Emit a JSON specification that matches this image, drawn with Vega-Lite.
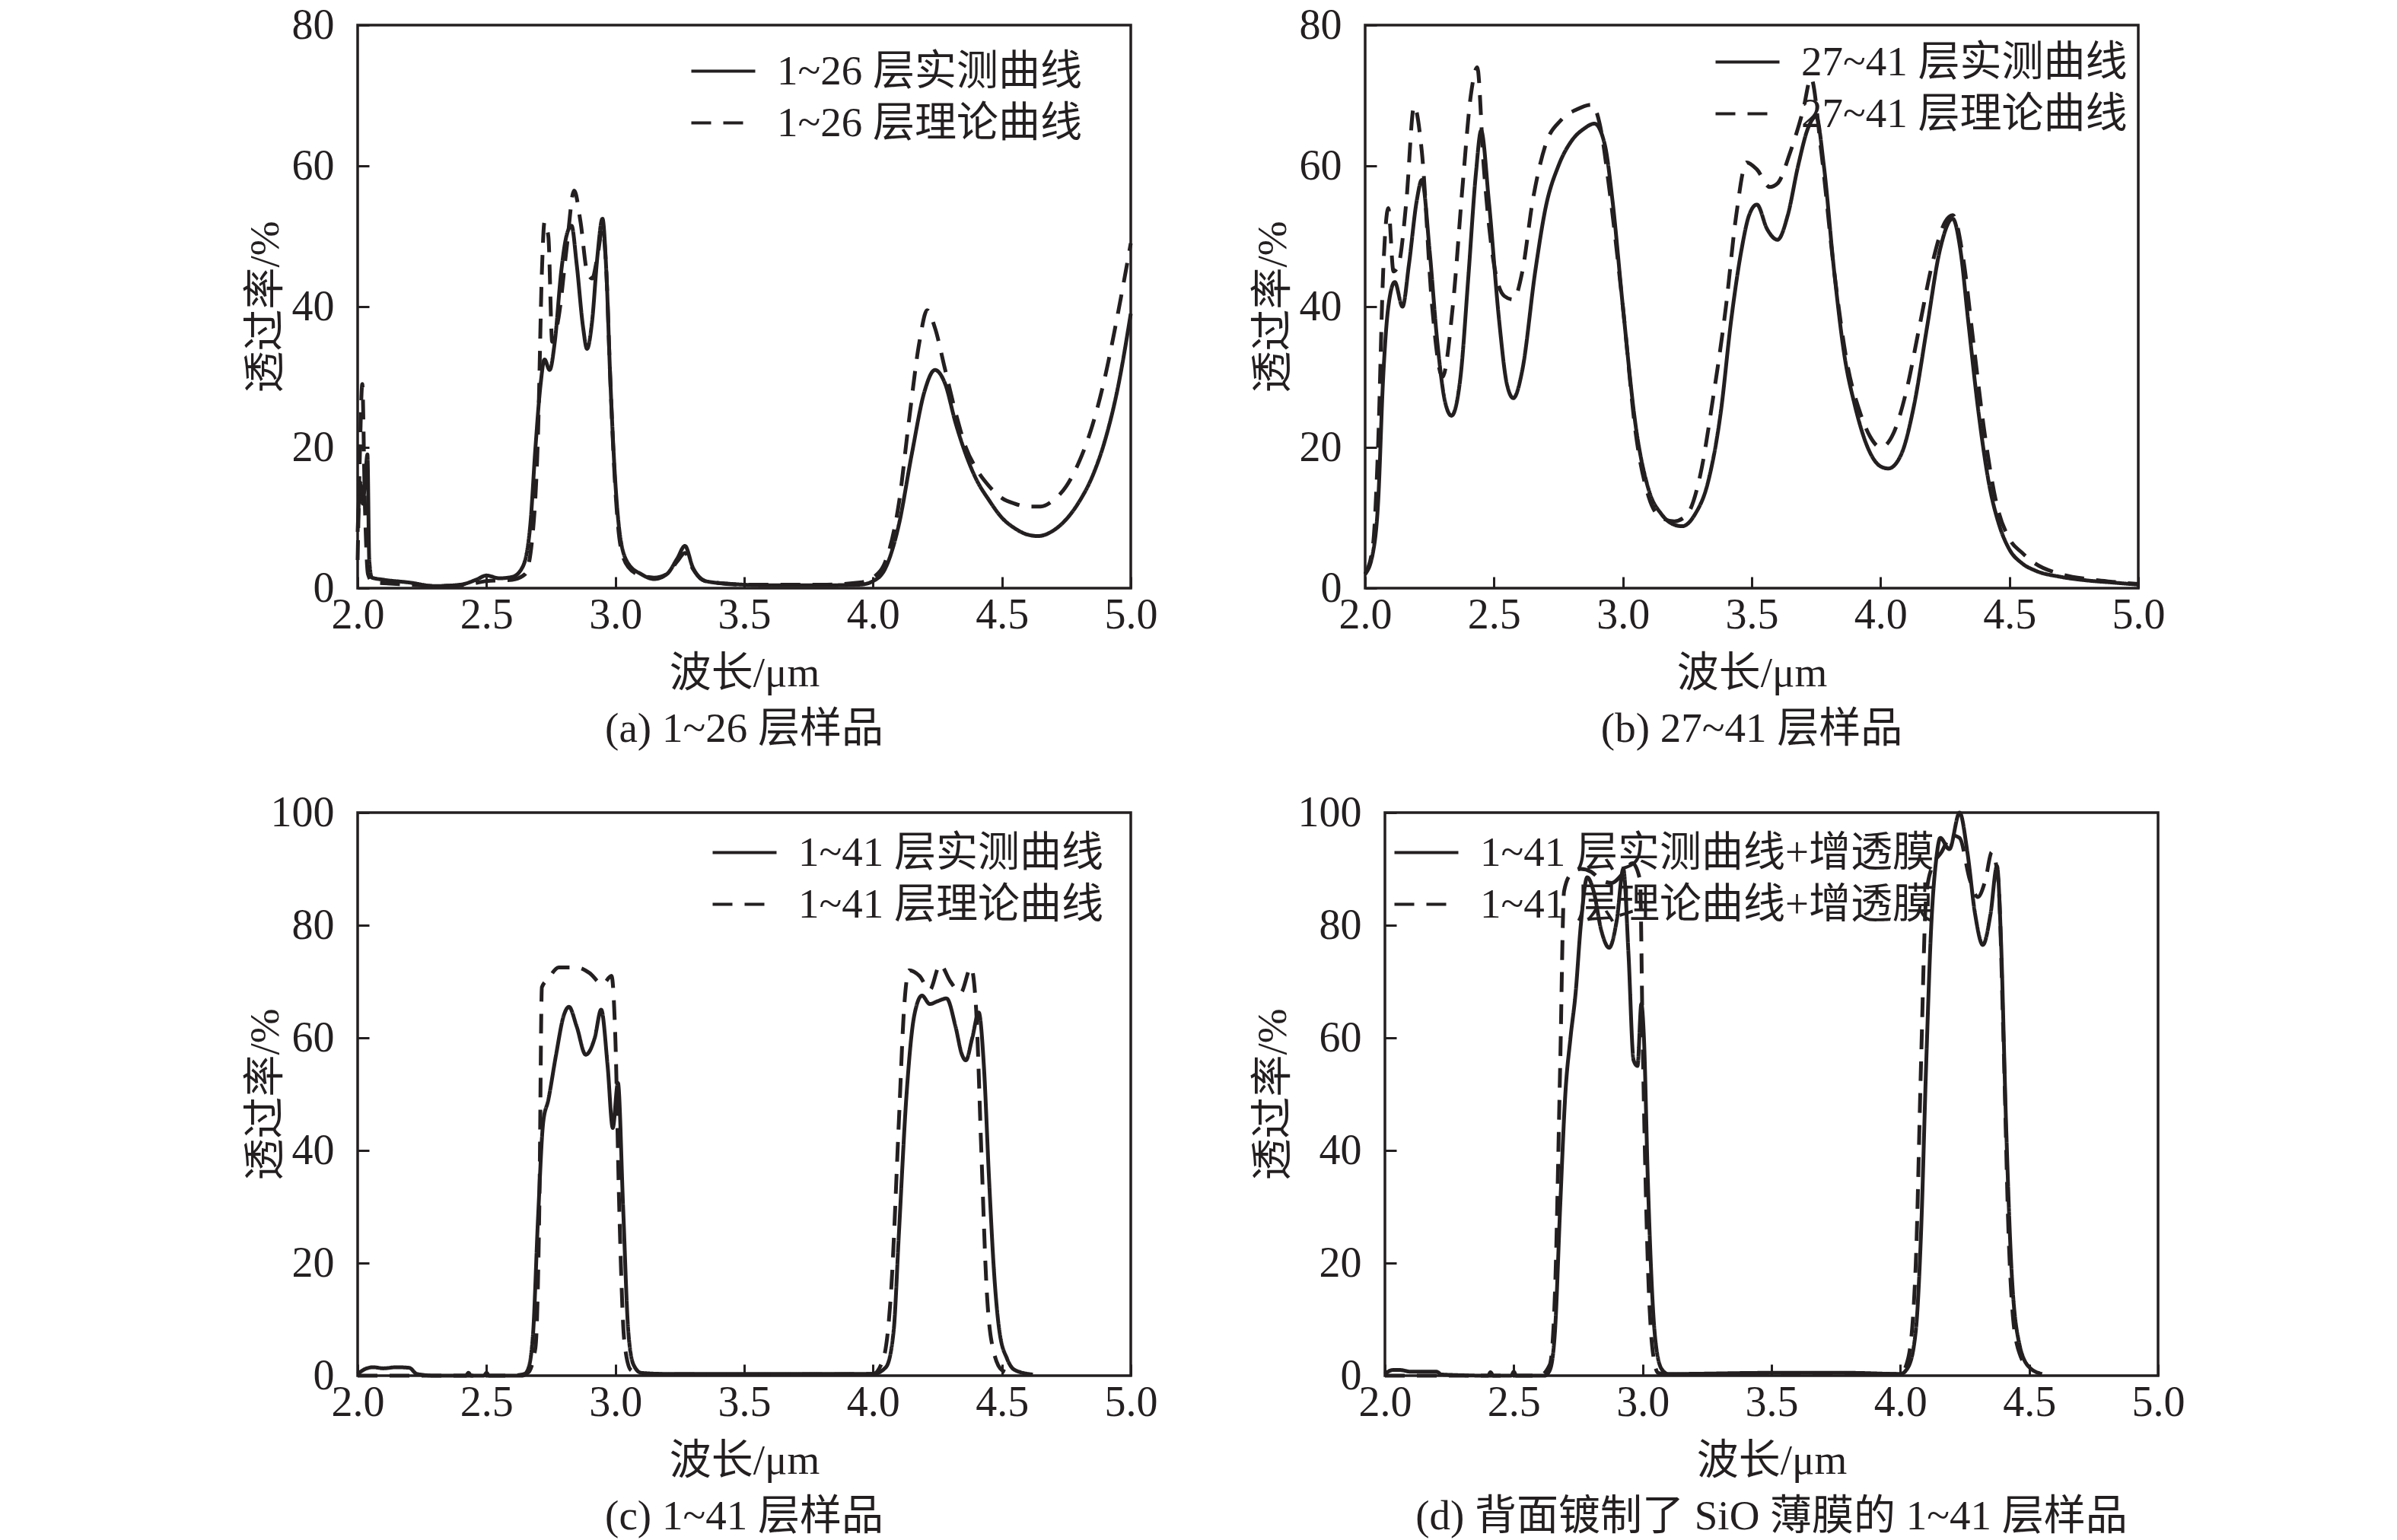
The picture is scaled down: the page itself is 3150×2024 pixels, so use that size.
{
  "$schema": "https://vega.github.io/schema/vega-lite/v6.json",
  "background": "white",
  "padding": {"left": 319, "top": 3, "right": 0, "bottom": 0},
  "datasets": {
    "a": [
      {"x":2.0,"y":8,"s":"m"},{"x":2.01,"y":15,"s":"m"},{"x":2.02,"y":12,"s":"m"},{"x":2.03,"y":16,"s":"m"},{"x":2.038,"y":19,"s":"m"},{"x":2.045,"y":4,"s":"m"},{"x":2.055,"y":1.5,"s":"m"},{"x":2.1,"y":1.2,"s":"m"},{"x":2.2,"y":0.8,"s":"m"},{"x":2.3,"y":0.3,"s":"m"},{"x":2.4,"y":0.5,"s":"m"},{"x":2.46,"y":1.2,"s":"m"},{"x":2.5,"y":1.8,"s":"m"},{"x":2.55,"y":1.4,"s":"m"},{"x":2.6,"y":1.6,"s":"m"},{"x":2.64,"y":3,"s":"m"},{"x":2.67,"y":9,"s":"m"},{"x":2.69,"y":20,"s":"m"},{"x":2.71,"y":29,"s":"m"},{"x":2.725,"y":32.5,"s":"m"},{"x":2.745,"y":31,"s":"m"},{"x":2.765,"y":35,"s":"m"},{"x":2.79,"y":45,"s":"m"},{"x":2.81,"y":50,"s":"m"},{"x":2.83,"y":51.5,"s":"m"},{"x":2.85,"y":46,"s":"m"},{"x":2.875,"y":37,"s":"m"},{"x":2.89,"y":34,"s":"m"},{"x":2.91,"y":38,"s":"m"},{"x":2.93,"y":47,"s":"m"},{"x":2.95,"y":52.5,"s":"m"},{"x":2.965,"y":45,"s":"m"},{"x":2.98,"y":30,"s":"m"},{"x":3.0,"y":15,"s":"m"},{"x":3.02,"y":7,"s":"m"},{"x":3.05,"y":3.5,"s":"m"},{"x":3.1,"y":2,"s":"m"},{"x":3.15,"y":1.3,"s":"m"},{"x":3.2,"y":2,"s":"m"},{"x":3.24,"y":4.2,"s":"m"},{"x":3.27,"y":6,"s":"m"},{"x":3.3,"y":3,"s":"m"},{"x":3.35,"y":1,"s":"m"},{"x":3.45,"y":0.6,"s":"m"},{"x":3.6,"y":0.4,"s":"m"},{"x":3.8,"y":0.4,"s":"m"},{"x":3.95,"y":0.5,"s":"m"},{"x":4.0,"y":1,"s":"m"},{"x":4.05,"y":3,"s":"m"},{"x":4.1,"y":9,"s":"m"},{"x":4.15,"y":19,"s":"m"},{"x":4.2,"y":28,"s":"m"},{"x":4.24,"y":31,"s":"m"},{"x":4.28,"y":29,"s":"m"},{"x":4.32,"y":23.5,"s":"m"},{"x":4.36,"y":19,"s":"m"},{"x":4.4,"y":15.5,"s":"m"},{"x":4.45,"y":12.5,"s":"m"},{"x":4.5,"y":10,"s":"m"},{"x":4.55,"y":8.5,"s":"m"},{"x":4.6,"y":7.6,"s":"m"},{"x":4.64,"y":7.4,"s":"m"},{"x":4.7,"y":8.2,"s":"m"},{"x":4.75,"y":9.8,"s":"m"},{"x":4.8,"y":12.3,"s":"m"},{"x":4.85,"y":15.8,"s":"m"},{"x":4.9,"y":21,"s":"m"},{"x":4.95,"y":28.5,"s":"m"},{"x":5.0,"y":39,"s":"m"},
      {"x":2.0,"y":4,"s":"t"},{"x":2.008,"y":18,"s":"t"},{"x":2.018,"y":29,"s":"t"},{"x":2.028,"y":12,"s":"t"},{"x":2.04,"y":2,"s":"t"},{"x":2.06,"y":0.8,"s":"t"},{"x":2.1,"y":0.7,"s":"t"},{"x":2.2,"y":0.5,"s":"t"},{"x":2.3,"y":0.3,"s":"t"},{"x":2.4,"y":0.4,"s":"t"},{"x":2.5,"y":1,"s":"t"},{"x":2.6,"y":1.2,"s":"t"},{"x":2.65,"y":2,"s":"t"},{"x":2.68,"y":8,"s":"t"},{"x":2.7,"y":22,"s":"t"},{"x":2.715,"y":45,"s":"t"},{"x":2.725,"y":52,"s":"t"},{"x":2.74,"y":50,"s":"t"},{"x":2.755,"y":35,"s":"t"},{"x":2.78,"y":38.5,"s":"t"},{"x":2.81,"y":48,"s":"t"},{"x":2.84,"y":56.5,"s":"t"},{"x":2.865,"y":52,"s":"t"},{"x":2.89,"y":45,"s":"t"},{"x":2.91,"y":44,"s":"t"},{"x":2.93,"y":47,"s":"t"},{"x":2.95,"y":51,"s":"t"},{"x":2.965,"y":45,"s":"t"},{"x":2.98,"y":30,"s":"t"},{"x":3.0,"y":14,"s":"t"},{"x":3.02,"y":6,"s":"t"},{"x":3.05,"y":3,"s":"t"},{"x":3.1,"y":1.8,"s":"t"},{"x":3.15,"y":1.5,"s":"t"},{"x":3.2,"y":2,"s":"t"},{"x":3.24,"y":3.8,"s":"t"},{"x":3.27,"y":5,"s":"t"},{"x":3.3,"y":2.8,"s":"t"},{"x":3.35,"y":1,"s":"t"},{"x":3.5,"y":0.5,"s":"t"},{"x":3.8,"y":0.5,"s":"t"},{"x":3.95,"y":0.8,"s":"t"},{"x":4.0,"y":1.5,"s":"t"},{"x":4.05,"y":4,"s":"t"},{"x":4.1,"y":12,"s":"t"},{"x":4.14,"y":24,"s":"t"},{"x":4.18,"y":35,"s":"t"},{"x":4.21,"y":39.5,"s":"t"},{"x":4.24,"y":37,"s":"t"},{"x":4.28,"y":31,"s":"t"},{"x":4.32,"y":25,"s":"t"},{"x":4.36,"y":20,"s":"t"},{"x":4.4,"y":17,"s":"t"},{"x":4.45,"y":14.5,"s":"t"},{"x":4.5,"y":12.8,"s":"t"},{"x":4.55,"y":12,"s":"t"},{"x":4.6,"y":11.6,"s":"t"},{"x":4.65,"y":11.6,"s":"t"},{"x":4.7,"y":12.5,"s":"t"},{"x":4.75,"y":14.5,"s":"t"},{"x":4.8,"y":18,"s":"t"},{"x":4.85,"y":23,"s":"t"},{"x":4.9,"y":30,"s":"t"},{"x":4.95,"y":39,"s":"t"},{"x":5.0,"y":49,"s":"t"}
    ],
    "b": [
      {"x":2.0,"y":2,"s":"m"},{"x":2.03,"y":5,"s":"m"},{"x":2.05,"y":12,"s":"m"},{"x":2.07,"y":30,"s":"m"},{"x":2.09,"y":40,"s":"m"},{"x":2.115,"y":43.5,"s":"m"},{"x":2.145,"y":40,"s":"m"},{"x":2.17,"y":46,"s":"m"},{"x":2.2,"y":55,"s":"m"},{"x":2.22,"y":58,"s":"m"},{"x":2.25,"y":48,"s":"m"},{"x":2.28,"y":35,"s":"m"},{"x":2.31,"y":26.5,"s":"m"},{"x":2.335,"y":24.5,"s":"m"},{"x":2.37,"y":30,"s":"m"},{"x":2.4,"y":44,"s":"m"},{"x":2.43,"y":59,"s":"m"},{"x":2.45,"y":65,"s":"m"},{"x":2.48,"y":55,"s":"m"},{"x":2.52,"y":38,"s":"m"},{"x":2.55,"y":29,"s":"m"},{"x":2.575,"y":27,"s":"m"},{"x":2.61,"y":31,"s":"m"},{"x":2.66,"y":45,"s":"m"},{"x":2.7,"y":54,"s":"m"},{"x":2.75,"y":60,"s":"m"},{"x":2.8,"y":63.5,"s":"m"},{"x":2.85,"y":65.3,"s":"m"},{"x":2.89,"y":66,"s":"m"},{"x":2.93,"y":63,"s":"m"},{"x":2.96,"y":55,"s":"m"},{"x":3.0,"y":40,"s":"m"},{"x":3.05,"y":23,"s":"m"},{"x":3.1,"y":14,"s":"m"},{"x":3.15,"y":10.5,"s":"m"},{"x":3.2,"y":9,"s":"m"},{"x":3.23,"y":8.8,"s":"m"},{"x":3.28,"y":10.5,"s":"m"},{"x":3.33,"y":15,"s":"m"},{"x":3.38,"y":25,"s":"m"},{"x":3.42,"y":38,"s":"m"},{"x":3.46,"y":48,"s":"m"},{"x":3.49,"y":53,"s":"m"},{"x":3.52,"y":54.5,"s":"m"},{"x":3.56,"y":51,"s":"m"},{"x":3.6,"y":49.5,"s":"m"},{"x":3.64,"y":53,"s":"m"},{"x":3.68,"y":60,"s":"m"},{"x":3.72,"y":65.5,"s":"m"},{"x":3.75,"y":67,"s":"m"},{"x":3.78,"y":60,"s":"m"},{"x":3.82,"y":45,"s":"m"},{"x":3.86,"y":33,"s":"m"},{"x":3.9,"y":26,"s":"m"},{"x":3.95,"y":20,"s":"m"},{"x":4.0,"y":17.3,"s":"m"},{"x":4.03,"y":17,"s":"m"},{"x":4.08,"y":19,"s":"m"},{"x":4.13,"y":26,"s":"m"},{"x":4.18,"y":37,"s":"m"},{"x":4.23,"y":48,"s":"m"},{"x":4.28,"y":52.5,"s":"m"},{"x":4.31,"y":48,"s":"m"},{"x":4.34,"y":38,"s":"m"},{"x":4.38,"y":25,"s":"m"},{"x":4.42,"y":15,"s":"m"},{"x":4.46,"y":9,"s":"m"},{"x":4.5,"y":5.5,"s":"m"},{"x":4.55,"y":3.5,"s":"m"},{"x":4.6,"y":2.5,"s":"m"},{"x":4.7,"y":1.6,"s":"m"},{"x":4.8,"y":1.1,"s":"m"},{"x":4.9,"y":0.8,"s":"m"},{"x":5.0,"y":0.5,"s":"m"},
      {"x":2.0,"y":2,"s":"t"},{"x":2.03,"y":6,"s":"t"},{"x":2.05,"y":20,"s":"t"},{"x":2.07,"y":45,"s":"t"},{"x":2.09,"y":54,"s":"t"},{"x":2.11,"y":45,"s":"t"},{"x":2.13,"y":46,"s":"t"},{"x":2.16,"y":55,"s":"t"},{"x":2.19,"y":68.5,"s":"t"},{"x":2.22,"y":62,"s":"t"},{"x":2.26,"y":40,"s":"t"},{"x":2.3,"y":30,"s":"t"},{"x":2.34,"y":40,"s":"t"},{"x":2.38,"y":58,"s":"t"},{"x":2.41,"y":70,"s":"t"},{"x":2.435,"y":74,"s":"t"},{"x":2.46,"y":60,"s":"t"},{"x":2.5,"y":46,"s":"t"},{"x":2.54,"y":41.5,"s":"t"},{"x":2.575,"y":41,"s":"t"},{"x":2.61,"y":45,"s":"t"},{"x":2.65,"y":55,"s":"t"},{"x":2.7,"y":63,"s":"t"},{"x":2.76,"y":66.5,"s":"t"},{"x":2.82,"y":68,"s":"t"},{"x":2.88,"y":68.7,"s":"t"},{"x":2.91,"y":66,"s":"t"},{"x":2.95,"y":56,"s":"t"},{"x":3.0,"y":40,"s":"t"},{"x":3.05,"y":22,"s":"t"},{"x":3.1,"y":13,"s":"t"},{"x":3.15,"y":10,"s":"t"},{"x":3.2,"y":9.5,"s":"t"},{"x":3.25,"y":10.5,"s":"t"},{"x":3.3,"y":16,"s":"t"},{"x":3.35,"y":27,"s":"t"},{"x":3.4,"y":40,"s":"t"},{"x":3.44,"y":53,"s":"t"},{"x":3.48,"y":60.5,"s":"t"},{"x":3.52,"y":59.5,"s":"t"},{"x":3.57,"y":57,"s":"t"},{"x":3.6,"y":57.5,"s":"t"},{"x":3.65,"y":62,"s":"t"},{"x":3.7,"y":68,"s":"t"},{"x":3.73,"y":72.5,"s":"t"},{"x":3.77,"y":62,"s":"t"},{"x":3.82,"y":45,"s":"t"},{"x":3.87,"y":32,"s":"t"},{"x":3.92,"y":25,"s":"t"},{"x":3.96,"y":21.5,"s":"t"},{"x":4.0,"y":20,"s":"t"},{"x":4.05,"y":22,"s":"t"},{"x":4.1,"y":28,"s":"t"},{"x":4.15,"y":37,"s":"t"},{"x":4.2,"y":46,"s":"t"},{"x":4.25,"y":52,"s":"t"},{"x":4.28,"y":53,"s":"t"},{"x":4.32,"y":47,"s":"t"},{"x":4.36,"y":35,"s":"t"},{"x":4.4,"y":23,"s":"t"},{"x":4.45,"y":12,"s":"t"},{"x":4.5,"y":7,"s":"t"},{"x":4.55,"y":5,"s":"t"},{"x":4.6,"y":3.5,"s":"t"},{"x":4.7,"y":2,"s":"t"},{"x":4.8,"y":1.3,"s":"t"},{"x":4.9,"y":0.9,"s":"t"},{"x":5.0,"y":0.6,"s":"t"}
    ],
    "c": [
      {"x":2.0,"y":0.3,"s":"m"},{"x":2.03,"y":1.2,"s":"m"},{"x":2.06,"y":1.5,"s":"m"},{"x":2.1,"y":1.3,"s":"m"},{"x":2.15,"y":1.5,"s":"m"},{"x":2.2,"y":1.4,"s":"m"},{"x":2.23,"y":0.3,"s":"m"},{"x":2.3,"y":0,"s":"m"},{"x":2.42,"y":0,"s":"m"},{"x":2.43,"y":0.5,"s":"m"},{"x":2.44,"y":0,"s":"m"},{"x":2.49,"y":0,"s":"m"},{"x":2.5,"y":0.5,"s":"m"},{"x":2.51,"y":0,"s":"m"},{"x":2.64,"y":0,"s":"m"},{"x":2.66,"y":1,"s":"m"},{"x":2.68,"y":7,"s":"m"},{"x":2.7,"y":28,"s":"m"},{"x":2.72,"y":45,"s":"m"},{"x":2.74,"y":49,"s":"m"},{"x":2.77,"y":57,"s":"m"},{"x":2.8,"y":64,"s":"m"},{"x":2.82,"y":65.5,"s":"m"},{"x":2.85,"y":62,"s":"m"},{"x":2.885,"y":57,"s":"m"},{"x":2.92,"y":60,"s":"m"},{"x":2.945,"y":65,"s":"m"},{"x":2.97,"y":55,"s":"m"},{"x":2.99,"y":44,"s":"m"},{"x":3.01,"y":52,"s":"m"},{"x":3.03,"y":30,"s":"m"},{"x":3.05,"y":8,"s":"m"},{"x":3.07,"y":2,"s":"m"},{"x":3.1,"y":0.5,"s":"m"},{"x":3.2,"y":0.3,"s":"m"},{"x":3.5,"y":0.3,"s":"m"},{"x":3.8,"y":0.3,"s":"m"},{"x":4.0,"y":0.3,"s":"m"},{"x":4.05,"y":1.5,"s":"m"},{"x":4.08,"y":8,"s":"m"},{"x":4.1,"y":25,"s":"m"},{"x":4.13,"y":50,"s":"m"},{"x":4.16,"y":64,"s":"m"},{"x":4.19,"y":67.5,"s":"m"},{"x":4.22,"y":66,"s":"m"},{"x":4.25,"y":66.5,"s":"m"},{"x":4.285,"y":67,"s":"m"},{"x":4.32,"y":62,"s":"m"},{"x":4.345,"y":57,"s":"m"},{"x":4.36,"y":56,"s":"m"},{"x":4.385,"y":60,"s":"m"},{"x":4.41,"y":64.5,"s":"m"},{"x":4.43,"y":55,"s":"m"},{"x":4.45,"y":35,"s":"m"},{"x":4.47,"y":18,"s":"m"},{"x":4.49,"y":8,"s":"m"},{"x":4.52,"y":3,"s":"m"},{"x":4.55,"y":1,"s":"m"},{"x":4.62,"y":0.2,"s":"m"},
      {"x":2.0,"y":0,"s":"t"},{"x":2.6,"y":0,"s":"t"},{"x":2.66,"y":0.5,"s":"t"},{"x":2.69,"y":5,"s":"t"},{"x":2.705,"y":30,"s":"t"},{"x":2.715,"y":69,"s":"t"},{"x":2.74,"y":70.5,"s":"t"},{"x":2.78,"y":72.5,"s":"t"},{"x":2.85,"y":72.5,"s":"t"},{"x":2.9,"y":71.5,"s":"t"},{"x":2.95,"y":69.5,"s":"t"},{"x":2.985,"y":71,"s":"t"},{"x":3.0,"y":60,"s":"t"},{"x":3.015,"y":30,"s":"t"},{"x":3.035,"y":6,"s":"t"},{"x":3.06,"y":1,"s":"t"},{"x":3.1,"y":0.3,"s":"t"},{"x":3.5,"y":0.2,"s":"t"},{"x":4.0,"y":0.3,"s":"t"},{"x":4.04,"y":3,"s":"t"},{"x":4.07,"y":15,"s":"t"},{"x":4.1,"y":45,"s":"t"},{"x":4.12,"y":65,"s":"t"},{"x":4.14,"y":72,"s":"t"},{"x":4.18,"y":71,"s":"t"},{"x":4.22,"y":68.5,"s":"t"},{"x":4.26,"y":73,"s":"t"},{"x":4.3,"y":70,"s":"t"},{"x":4.34,"y":68,"s":"t"},{"x":4.38,"y":72.5,"s":"t"},{"x":4.4,"y":65,"s":"t"},{"x":4.42,"y":40,"s":"t"},{"x":4.44,"y":16,"s":"t"},{"x":4.46,"y":6,"s":"t"},{"x":4.5,"y":1,"s":"t"},{"x":4.55,"y":0.2,"s":"t"}
    ],
    "d": [
      {"x":2.0,"y":0.3,"s":"m"},{"x":2.03,"y":1,"s":"m"},{"x":2.06,"y":1,"s":"m"},{"x":2.1,"y":0.7,"s":"m"},{"x":2.15,"y":0.7,"s":"m"},{"x":2.2,"y":0.7,"s":"m"},{"x":2.22,"y":0.2,"s":"m"},{"x":2.4,"y":0,"s":"m"},{"x":2.41,"y":0.6,"s":"m"},{"x":2.42,"y":0,"s":"m"},{"x":2.49,"y":0,"s":"m"},{"x":2.5,"y":0.7,"s":"m"},{"x":2.51,"y":0,"s":"m"},{"x":2.62,"y":0,"s":"m"},{"x":2.64,"y":1,"s":"m"},{"x":2.66,"y":8,"s":"m"},{"x":2.68,"y":30,"s":"m"},{"x":2.7,"y":50,"s":"m"},{"x":2.72,"y":60,"s":"m"},{"x":2.74,"y":68,"s":"m"},{"x":2.76,"y":80,"s":"m"},{"x":2.785,"y":88.5,"s":"m"},{"x":2.81,"y":86,"s":"m"},{"x":2.84,"y":79,"s":"m"},{"x":2.87,"y":76,"s":"m"},{"x":2.9,"y":81,"s":"m"},{"x":2.925,"y":90,"s":"m"},{"x":2.945,"y":75,"s":"m"},{"x":2.965,"y":56,"s":"m"},{"x":2.98,"y":55,"s":"m"},{"x":2.995,"y":66,"s":"m"},{"x":3.005,"y":60,"s":"m"},{"x":3.02,"y":35,"s":"m"},{"x":3.04,"y":12,"s":"m"},{"x":3.06,"y":3,"s":"m"},{"x":3.08,"y":0.8,"s":"m"},{"x":3.1,"y":0.3,"s":"m"},{"x":3.5,"y":0.5,"s":"m"},{"x":3.8,"y":0.5,"s":"m"},{"x":4.0,"y":0.3,"s":"m"},{"x":4.03,"y":1.5,"s":"m"},{"x":4.06,"y":8,"s":"m"},{"x":4.08,"y":25,"s":"m"},{"x":4.1,"y":55,"s":"m"},{"x":4.12,"y":80,"s":"m"},{"x":4.14,"y":92,"s":"m"},{"x":4.155,"y":95.5,"s":"m"},{"x":4.19,"y":93.5,"s":"m"},{"x":4.23,"y":100,"s":"m"},{"x":4.26,"y":93,"s":"m"},{"x":4.29,"y":82,"s":"m"},{"x":4.32,"y":76.5,"s":"m"},{"x":4.35,"y":82,"s":"m"},{"x":4.375,"y":90.5,"s":"m"},{"x":4.39,"y":78,"s":"m"},{"x":4.41,"y":45,"s":"m"},{"x":4.43,"y":20,"s":"m"},{"x":4.46,"y":6,"s":"m"},{"x":4.5,"y":1.5,"s":"m"},{"x":4.55,"y":0.3,"s":"m"},
      {"x":2.0,"y":0,"s":"t"},{"x":2.6,"y":0,"s":"t"},{"x":2.64,"y":2,"s":"t"},{"x":2.66,"y":15,"s":"t"},{"x":2.68,"y":55,"s":"t"},{"x":2.695,"y":86,"s":"t"},{"x":2.72,"y":89,"s":"t"},{"x":2.76,"y":90,"s":"t"},{"x":2.8,"y":89.5,"s":"t"},{"x":2.84,"y":88,"s":"t"},{"x":2.88,"y":87.5,"s":"t"},{"x":2.92,"y":89,"s":"t"},{"x":2.96,"y":91,"s":"t"},{"x":2.99,"y":88,"s":"t"},{"x":3.0,"y":60,"s":"t"},{"x":3.02,"y":20,"s":"t"},{"x":3.04,"y":4,"s":"t"},{"x":3.06,"y":0.5,"s":"t"},{"x":3.1,"y":0.2,"s":"t"},{"x":4.0,"y":0.3,"s":"t"},{"x":4.03,"y":3,"s":"t"},{"x":4.06,"y":20,"s":"t"},{"x":4.08,"y":55,"s":"t"},{"x":4.1,"y":85,"s":"t"},{"x":4.12,"y":90,"s":"t"},{"x":4.16,"y":93,"s":"t"},{"x":4.2,"y":96,"s":"t"},{"x":4.23,"y":95.5,"s":"t"},{"x":4.27,"y":88,"s":"t"},{"x":4.3,"y":85,"s":"t"},{"x":4.33,"y":88,"s":"t"},{"x":4.355,"y":93,"s":"t"},{"x":4.38,"y":88,"s":"t"},{"x":4.4,"y":60,"s":"t"},{"x":4.42,"y":25,"s":"t"},{"x":4.45,"y":6,"s":"t"},{"x":4.5,"y":1,"s":"t"}
    ]
  },
  "columns": 2,
  "align": "none",
  "spacing": {"column": 120, "row": 50},
  "concat": [
    {
      "width": 1016, "height": 740,
      "title": "(a) 1~26 层样品",
      "data": {"name": "a"},
      "mark": {"type": "line", "interpolate": "monotone", "strokeWidth": 5, "color": "#231f20"},
      "encoding": {
        "x": {"field": "x", "type": "quantitative", "scale": {"domain": [2, 5], "nice": false}, "axis": {"values": [2, 2.5, 3, 3.5, 4, 4.5, 5], "format": ".1f", "title": "波长/μm"}},
        "y": {"field": "y", "type": "quantitative", "scale": {"domain": [0, 80], "nice": false}, "axis": {"values": [0, 20, 40, 60, 80], "title": "透过率/%"}},
        "strokeDash": {"field": "s", "type": "nominal", "scale": {"domain": ["m", "t"], "range": [[1, 0], [26, 16]]},
          "legend": {"legendX": 432, "legendY": 33, "labelExpr": "datum.value == 'm' ? '1~26 层实测曲线' : '1~26 层理论曲线'"}}
      }
    },
    {
      "width": 1016, "height": 740,
      "title": "(b) 27~41 层样品",
      "data": {"name": "b"},
      "mark": {"type": "line", "interpolate": "monotone", "strokeWidth": 5, "color": "#231f20"},
      "encoding": {
        "x": {"field": "x", "type": "quantitative", "scale": {"domain": [2, 5], "nice": false}, "axis": {"values": [2, 2.5, 3, 3.5, 4, 4.5, 5], "format": ".1f", "title": "波长/μm"}},
        "y": {"field": "y", "type": "quantitative", "scale": {"domain": [0, 80], "nice": false}, "axis": {"values": [0, 20, 40, 60, 80], "title": "透过率/%"}},
        "strokeDash": {"field": "s", "type": "nominal", "scale": {"domain": ["m", "t"], "range": [[1, 0], [26, 16]]},
          "legend": {"legendX": 454, "legendY": 21, "labelExpr": "datum.value == 'm' ? '27~41 层实测曲线' : '27~41 层理论曲线'"}}
      }
    },
    {
      "width": 1016, "height": 740,
      "title": "(c) 1~41 层样品",
      "data": {"name": "c"},
      "mark": {"type": "line", "interpolate": "monotone", "strokeWidth": 5, "color": "#231f20"},
      "encoding": {
        "x": {"field": "x", "type": "quantitative", "scale": {"domain": [2, 5], "nice": false}, "axis": {"values": [2, 2.5, 3, 3.5, 4, 4.5, 5], "format": ".1f", "title": "波长/μm"}},
        "y": {"field": "y", "type": "quantitative", "scale": {"domain": [0, 100], "nice": false}, "axis": {"values": [0, 20, 40, 60, 80, 100], "title": "透过率/%"}},
        "strokeDash": {"field": "s", "type": "nominal", "scale": {"domain": ["m", "t"], "range": [[1, 0], [26, 16]]},
          "legend": {"legendX": 460, "legendY": 25, "labelExpr": "datum.value == 'm' ? '1~41 层实测曲线' : '1~41 层理论曲线'"}}
      }
    },
    {
      "width": 1016, "height": 740,
      "title": "(d) 背面镀制了 SiO 薄膜的 1~41 层样品",
      "data": {"name": "d"},
      "mark": {"type": "line", "interpolate": "monotone", "strokeWidth": 5, "color": "#231f20"},
      "encoding": {
        "x": {"field": "x", "type": "quantitative", "scale": {"domain": [2, 5], "nice": false}, "axis": {"values": [2, 2.5, 3, 3.5, 4, 4.5, 5], "format": ".1f", "title": "波长/μm"}},
        "y": {"field": "y", "type": "quantitative", "scale": {"domain": [0, 100], "nice": false}, "axis": {"values": [0, 20, 40, 60, 80, 100], "title": "透过率/%", "titleX": -148}},
        "strokeDash": {"field": "s", "type": "nominal", "scale": {"domain": ["m", "t"], "range": [[1, 0], [26, 16]]},
          "legend": {"legendX": 6, "legendY": 25, "labelExpr": "datum.value == 'm' ? '1~41 层实测曲线+增透膜' : '1~41 层理论曲线+增透膜'"}}
      }
    }
  ],
  "resolve": {"scale": {"strokeDash": "independent"}, "legend": {"strokeDash": "independent"}},
  "config": {
    "font": "Liberation Serif, Noto Sans CJK SC",
    "view": {"stroke": "#231f20", "strokeWidth": 3.5},
    "axis": {
      "domain": false, "grid": false, "ticks": true, "tickSize": -15, "tickWidth": 3, "tickColor": "#231f20",
      "labelFont": "Liberation Serif, Noto Sans CJK SC", "labelFontSize": 56, "labelColor": "#231f20",
      "titleFont": "Liberation Serif, Noto Sans CJK SC", "titleFontSize": 55, "titleFontWeight": "normal", "titleColor": "#231f20"
    },
    "axisX": {"labelPadding": 50, "labelBaseline": "middle", "labelFlush": false, "titleY": 111, "titleBaseline": "middle"},
    "axisY": {"labelPadding": 46, "titleX": -122, "titleBaseline": "middle"},
    "legend": {
      "orient": "none", "title": null, "padding": 0,
      "symbolType": "M-1,0H3", "symbolSize": 1764, "symbolStrokeWidth": 4, "symbolStrokeColor": "#231f20",
      "labelOffset": 64, "rowPadding": 12, "labelFontSize": 55, "labelLimit": 2000, "labelColor": "#231f20",
      "labelFont": "Liberation Serif, Noto Sans CJK SC"
    },
    "title": {"orient": "bottom", "fontSize": 55, "fontWeight": "normal", "color": "#231f20", "offset": 20, "font": "Liberation Serif, Noto Sans CJK SC"}
  }
}
